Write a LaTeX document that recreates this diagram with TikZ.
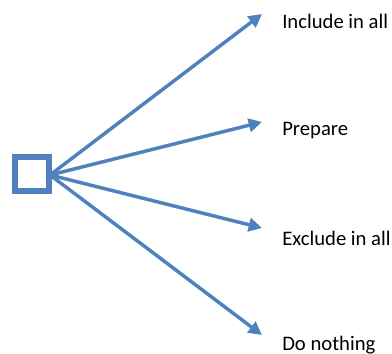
\documentclass[tikz,border=0pt]{standalone}
\usepackage{fontspec}
\setmainfont{Carlito}
\usetikzlibrary{arrows.meta}
\definecolor{office}{RGB}{79,129,189}
\begin{document}
\begin{tikzpicture}[x=0.75pt,y=-0.75pt,
  branch/.style={draw=office,line width=2.6pt,-{Triangle[length=10pt,width=10pt]}},
  label/.style={anchor=base west,inner sep=0pt,font=\fontsize{15.5}{18}\selectfont}]
\useasboundingbox (0,0) rectangle (392,353);
\node[draw=office,line width=4.5pt,minimum size=25pt,inner sep=0pt] (dec) at (32,174) {};
\coordinate (o) at (50,175);
\node[label] (a) at (282,29) {Include in all};
\node[label] (b) at (282,135) {Prepare};
\node[label] (c) at (282,245) {Exclude in all};
\node[label] (d) at (282,350) {Do nothing};
\coordinate (ta) at (262,14);
\coordinate (tb) at (262,122);
\coordinate (tc) at (262,228);
\coordinate (td) at (262,335);
\draw[branch] (o) -- (ta);
\draw[branch] (o) -- (tb);
\draw[branch] (o) -- (tc);
\draw[branch] (o) -- (td);
\end{tikzpicture}
\end{document}
